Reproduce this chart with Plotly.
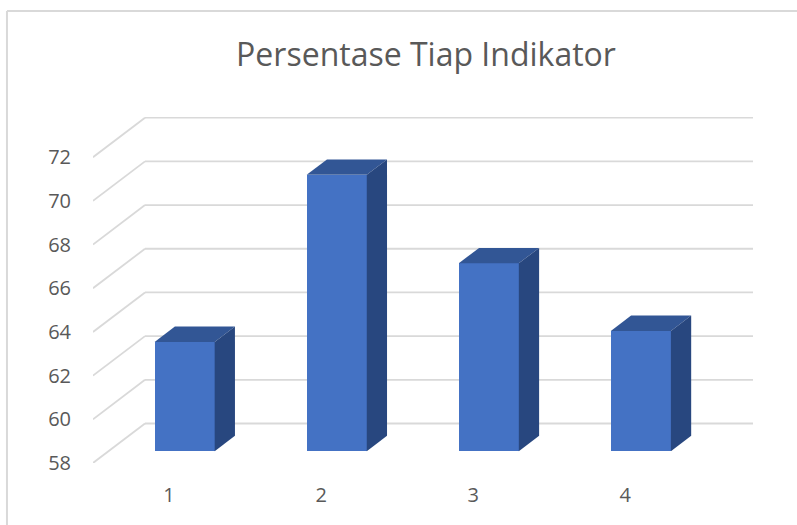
import plotly.graph_objects as go

categories = [1, 2, 3, 4]
values = [63.0, 70.65, 66.6, 63.5]
y_ticks = [58, 60, 62, 64, 66, 68, 70, 72]
title_text = "Persentase Tiap Indikator"

W, H = 797, 525
L, R, T, B = 93, 752.7, 117, 463
Y_MIN = 58
X_MIN = 0.5
Y_MAX = 73.84
X_MAX = 4.84
DEPTH_X = 0.342   # back wall offset, category units
DEPTH_Y = 1.808   # back wall offset, value units
BAR_FRONT, BAR_BACK = 0.30, 0.69
BAR_W = 0.395

GRID = "#d9d9d9"
TEXT = "#595959"
C_FRONT = "#4472c4"
C_TOP = "#325695"
C_SIDE = "#28477f"
FONT = "Open Sans"


def px_x(p):
    return (p - L) / (R - L)


def px_y(p):
    return (B - p) / (B - T)


def pr(x, y, d):
    return x + DEPTH_X * d, y + DEPTH_Y * d


shapes = []
for v in y_ticks:
    x0, y0 = pr(X_MIN, v, 0)
    x1, y1 = pr(X_MIN, v, 1)
    line = dict(color=GRID, width=1.8)
    shapes.append(dict(type="line", layer="below", xref="x", yref="y",
                       x0=x0, y0=y0, x1=x1, y1=y1, line=line))
    shapes.append(dict(type="line", layer="below", xref="x", yref="y",
                       x0=x1, y0=y1, x1=X_MAX, y1=y1, line=line))

# chart frame (top and left edges only are visible in the picture)
frame = dict(color="#d9d9d9", width=2)
shapes.append(dict(type="line", xref="paper", yref="paper",
                   x0=px_x(7), y0=px_y(11), x1=px_x(W), y1=px_y(11), line=frame))
shapes.append(dict(type="line", xref="paper", yref="paper",
                   x0=px_x(7), y0=px_y(11), x1=px_x(7), y1=px_y(H), line=frame))

fig = go.Figure()

fig.add_trace(go.Bar(
    x=[pr(c, 0, BAR_FRONT)[0] for c in categories],
    y=[v - Y_MIN for v in values],
    base=[pr(0, Y_MIN, BAR_FRONT)[1]] * len(values),
    width=BAR_W,
    marker=dict(color=C_FRONT, line=dict(width=0)),
    showlegend=False,
))

for c, v in zip(categories, values):
    xl, xr = c - BAR_W / 2, c + BAR_W / 2
    # top face
    pts = [pr(xl, v, BAR_FRONT), pr(xr, v, BAR_FRONT), pr(xr, v, BAR_BACK), pr(xl, v, BAR_BACK)]
    fig.add_trace(go.Scatter(
        x=[p[0] for p in pts] + [pts[0][0]], y=[p[1] for p in pts] + [pts[0][1]],
        mode="lines", fill="toself", fillcolor=C_TOP, line=dict(width=0, color=C_TOP),
        showlegend=False, hoverinfo="skip"))
    # side face
    pts = [pr(xr, v, BAR_FRONT), pr(xr, v, BAR_BACK), pr(xr, Y_MIN, BAR_BACK), pr(xr, Y_MIN, BAR_FRONT)]
    fig.add_trace(go.Scatter(
        x=[p[0] for p in pts] + [pts[0][0]], y=[p[1] for p in pts] + [pts[0][1]],
        mode="lines", fill="toself", fillcolor=C_SIDE, line=dict(width=0, color=C_SIDE),
        showlegend=False, hoverinfo="skip"))

fig.update_layout(
    width=W, height=H, autosize=False,
    margin=dict(l=L, r=W - R, t=T, b=H - B, pad=0),
    paper_bgcolor="white", plot_bgcolor="white",
    font=dict(family=FONT, color=TEXT),
    title=dict(text=title_text, x=426 / W, xanchor="center", y=1 - 55 / H, yanchor="middle",
               font=dict(family=FONT, size=32, color=TEXT)),
    shapes=shapes,
    bargap=0,
    xaxis=dict(range=[X_MIN, X_MAX], tickmode="array", tickvals=categories,
               ticktext=[str(c) for c in categories], showgrid=False, zeroline=False, showline=False,
               ticks="outside", ticklen=14, tickcolor="rgba(0,0,0,0)",
               tickfont=dict(family=FONT, size=20, color=TEXT)),
    yaxis=dict(range=[Y_MIN, Y_MAX], tickmode="array", tickvals=y_ticks,
               ticktext=[str(v) for v in y_ticks], showgrid=False, zeroline=False, showline=False,
               ticks="outside", ticklen=17, tickcolor="rgba(0,0,0,0)",
               tickfont=dict(family=FONT, size=20, color=TEXT)),
)

fig.write_html("out.html", config={"displayModeBar": False},
               post_script="document.body.style.margin='0';document.body.style.overflow='hidden';")
